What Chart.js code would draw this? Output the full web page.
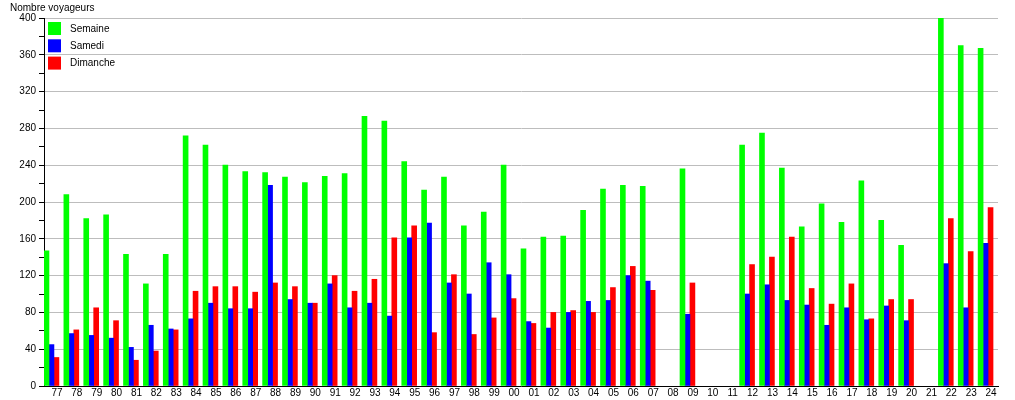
<!DOCTYPE html>
<html lang="fr">
<head>
<meta charset="utf-8">
<title>Nombre voyageurs</title>
<script src="https://cdn.jsdelivr.net/npm/chart.js@4/dist/chart.umd.min.js"></script>
<style>
  body { margin: 0; background: #fff; }
  #graph { display: block; }
</style>
</head>
<body>
<canvas id="graph" width="1015" height="400"></canvas>
<script>
// années (77 = 1977 ... 24 = 2024)
const annees = ['77', '78', '79', '80', '81', '82', '83', '84', '85', '86',
    '87', '88', '89', '90', '91', '92', '93', '94', '95', '96',
    '97', '98', '99', '00', '01', '02', '03', '04', '05', '06',
    '07', '08', '09', '10', '11', '12', '13', '14', '15', '16',
    '17', '18', '19', '20', '21', '22', '23', '24'];

const semaine = [147, 208, 182, 186, 143, 111, 143, 272, 262, 240,
    233, 232, 227, 221, 228, 231, 293, 288, 244, 213,
    227, 174, 189, 240, 149, 162, 163, 191, 214, 218,
    217, null, 236, null, null, 262, 275, 237, 173, 198,
    178, 223, 180, 153, null, 400, 370, 367];

const samedi = [45, 57, 55, 52, 42, 66, 62, 73, 90, 84,
    84, 218, 94, 90, 111, 85, 90, 76, 161, 177,
    112, 100, 134, 121, 70, 63, 80, 92, 93, 120,
    114, null, 78, null, null, 100, 110, 93, 88, 66,
    85, 72, 87, 71, null, 133, 85, 155];

const dimanche = [31, 61, 85, 71, 28, 38, 61, 103, 108, 108,
    102, 112, 108, 90, 120, 103, 116, 161, 174, 58,
    121, 56, 74, 95, 68, 80, 82, 80, 107, 130,
    104, null, 112, null, null, 132, 140, 162, 106, 89,
    111, 73, 94, 94, null, 182, 146, 194];

const titreAxe = 'Nombre voyageurs';
const yMax = 400;

Chart.defaults.font.family = '"Liberation Sans", Arial, sans-serif';
Chart.defaults.font.size = 10;
Chart.defaults.color = '#000';

// légende dessinée dans la zone du graphique (en haut à gauche)
const legendeInterne = {
    id: 'legendeInterne',
    afterDraw(chart) {
        const ctx = chart.ctx;
        const area = chart.chartArea;
        ctx.save();
        ctx.font = '10px "Liberation Sans", Arial, sans-serif';
        ctx.textBaseline = 'middle';
        ctx.textAlign = 'left';
        chart.data.datasets.slice(0, 3).forEach((ds, i) => {
            const y = area.top + 4 + i * 17.3;
            ctx.fillStyle = ds.backgroundColor;
            ctx.fillRect(area.left + 4, y, 13, 13);
            ctx.fillStyle = '#000';
            ctx.fillText(ds.label, area.left + 26, y + 7);
        });
        ctx.restore();
    }
};

const ctx = document.getElementById('graph').getContext('2d');
const myChart = new Chart(ctx, {
    type: 'bar',
    data: {
        labels: annees,
        datasets: [
            { label: 'Semaine', data: semaine, backgroundColor: '#00ff00' },
            { label: 'Samedi', data: samedi, backgroundColor: '#0000ff' },
            { label: 'Dimanche', data: dimanche, backgroundColor: '#ff0000' },
            // espace vide à droite de chaque groupe
            { label: '', data: annees.map(() => null), backgroundColor: 'rgba(0,0,0,0)' }
        ]
    },
    options: {
        responsive: false,
        animation: false,
        layout: { padding: { left: 10, right: 17, top: 0, bottom: 0 } },
        datasets: {
            bar: { barPercentage: 1, categoryPercentage: 1, borderWidth: 0 }
        },
        plugins: {
            legend: { display: false },
            tooltip: { enabled: false },
            title: {
                display: true,
                text: titreAxe,
                align: 'start',
                color: '#000',
                font: { size: 10, weight: 'normal', lineHeight: 1.2 },
                padding: { top: 2, bottom: 4 }
            }
        },
        scales: {
            x: {
                grid: { display: false, drawTicks: false },
                border: { display: true, color: '#000', width: 1 },
                ticks: { padding: 1, labelOffset: 3, maxRotation: 0, autoSkip: false, font: { size: 10 } }
            },
            y: {
                min: 0,
                max: yMax,
                afterFit(scale) { scale.width = 34; },
                grid: {
                    color: c => (c.tick && c.tick.value % 40 === 0) ? '#bdbdbd' : 'rgba(0,0,0,0)',
                    tickColor: '#000',
                    tickLength: 5
                },
                border: { display: true, color: '#000', width: 1 },
                ticks: {
                    stepSize: 20,
                    padding: 3,
                    font: { size: 10 },
                    callback: v => (v % 40 === 0 ? v : '')
                }
            }
        }
    },
    plugins: [legendeInterne]
});
</script>
</body>
</html>
